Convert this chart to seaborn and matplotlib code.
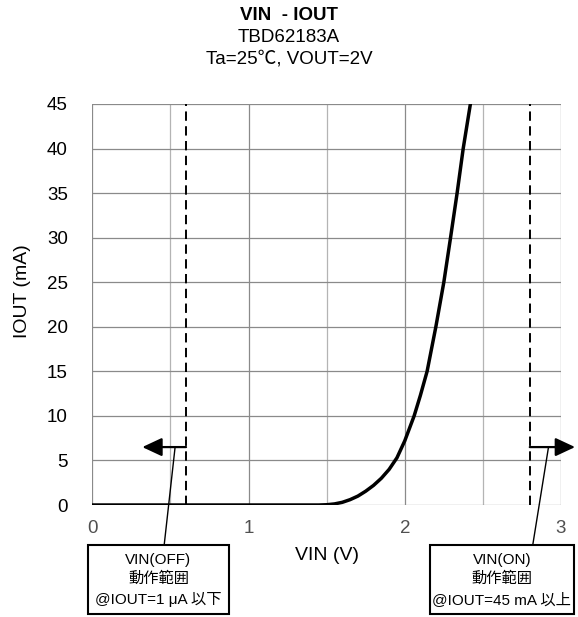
import matplotlib
matplotlib.use("Agg")
import matplotlib.pyplot as plt
import seaborn as sns
import pandas as pd
from matplotlib.patches import Rectangle
from matplotlib.ticker import MultipleLocator

# ---- data ----
vin = [0.0, 0.5, 1.0, 1.3, 1.45, 1.5, 1.55, 1.6, 1.65, 1.7, 1.75, 1.8, 1.85, 1.9,
       1.95, 2.0, 2.06, 2.1, 2.143, 2.199, 2.25, 2.293, 2.335, 2.374, 2.42]
iout = [0.0, 0.0, 0.0, 0.0, 0.0, 0.03, 0.12, 0.3, 0.6, 1.0, 1.55, 2.2, 3.0, 4.0,
        5.3, 7.2, 10.0, 12.3, 15.0, 20.0, 25.0, 30.0, 35.0, 40.0, 45.0]
vin_off = 0.6
vin_on = 2.8
x_ticks = [0, 1, 2, 3]
y_ticks = [0, 5, 10, 15, 20, 25, 30, 35, 40, 45]
title_lines = ["VIN  - IOUT", "TBD62183A", "Ta=25℃, VOUT=2V"]
box_off = "VIN(OFF)\n動作範囲\n@IOUT=1 μA 以下"
box_on = "VIN(ON)\n動作範囲\n@IOUT=45 mA 以上"

sns.set_style("white")
plt.rcParams['font.family'] = ['Liberation Sans', 'Noto Sans CJK JP', 'DejaVu Sans']
plt.rcParams['text.color'] = 'black'
plt.rcParams['axes.labelcolor'] = 'black'

W, H = 578, 617
fig = plt.figure(figsize=(W / 100, H / 100), dpi=100)
ax_l, ax_r, ax_t, ax_b = 92.3, 561.0, 104.0, 505.0
ax = fig.add_axes([ax_l / W, 1 - ax_b / H, (ax_r - ax_l) / W, (ax_b - ax_t) / H])

df = pd.DataFrame({"VIN": vin, "IOUT": iout})
sns.lineplot(data=df, x="VIN", y="IOUT", ax=ax, color="black", lw=2.5, zorder=5)

ax.set_xlim(0, 3)
ax.set_ylim(0, 45)
ax.xaxis.set_minor_locator(MultipleLocator(0.5))
ax.set_xticks(x_ticks)
ax.set_yticks(y_ticks)
ax.grid(True, which="major", color="#8a8a8a", lw=0.9)
ax.grid(True, which="minor", axis="x", color="#b4b4b4", lw=0.9)
for s in ax.spines.values():
    s.set_visible(False)
ax.tick_params(axis="x", which="major", length=5, width=0.8, color="#8a8a8a",
               pad=6, labelsize=13.5, labelcolor="#505050")
ax.tick_params(axis="x", which="minor", length=0)
ax.tick_params(axis="y", length=5.5, width=0.8, color="#8a8a8a", pad=12,
               labelsize=13.5, labelcolor="black")
ax.set_xlabel("")
ax.set_ylabel("")

# axis labels
fig.text(327 / W, 1 - 556 / H, "VIN (V)", ha="center", va="center", fontsize=14)
fig.text(23 / W, 1 - 291 / H, "IOUT (mA)", ha="center", va="center", fontsize=14,
         rotation=90)

# titles
fig.text(289 / W, 1 - 16 / H, title_lines[0], ha="center", va="center",
         fontsize=13.5, fontweight="bold")
fig.text(289 / W, 1 - 37 / H, title_lines[1], ha="center", va="center", fontsize=13.5)
fig.text(289 / W, 1 - 59 / H, title_lines[2], ha="center", va="center", fontsize=13.5)

# dashed threshold lines
for xv in (vin_off, vin_on):
    ax.plot([xv, xv], [0, 45], color="black", lw=1.4, ls=(0, (4.8, 2.8)), zorder=4)

# arrows
arr_y = 6.5
ap = dict(arrowstyle="-|>,head_length=0.6,head_width=0.28", color="black", lw=1.6,
          mutation_scale=20, shrinkA=0, shrinkB=0)
ax.annotate("", xy=(0.32, arr_y), xytext=(vin_off, arr_y), arrowprops=ap,
            annotation_clip=False, zorder=6)
ax.annotate("", xy=(3.09, arr_y), xytext=(vin_on, arr_y), arrowprops=ap,
            annotation_clip=False, zorder=6)

# leader lines
ax.plot([0.53, 0.46], [arr_y, -4.5], color="black", lw=1.0, clip_on=False, zorder=6)
ax.plot([2.92, 2.82], [arr_y, -4.4], color="black", lw=1.0, clip_on=False, zorder=6)

# boxes
for (x0, x1, txt) in ((-0.029, 0.875, box_off), (2.16, 3.083, box_on)):
    y0, y1 = -12.26, -4.5
    ax.add_patch(Rectangle((x0, y1), x1 - x0, y0 - y1, fill=True, facecolor="white",
                           edgecolor="black", lw=1.5, clip_on=False, zorder=7))
    ax.text((x0 + x1) / 2, (y0 + y1) / 2, txt, ha="center", va="center",
            fontsize=11, linespacing=1.45, zorder=8, clip_on=False)

fig.savefig("out.png", dpi=100)
